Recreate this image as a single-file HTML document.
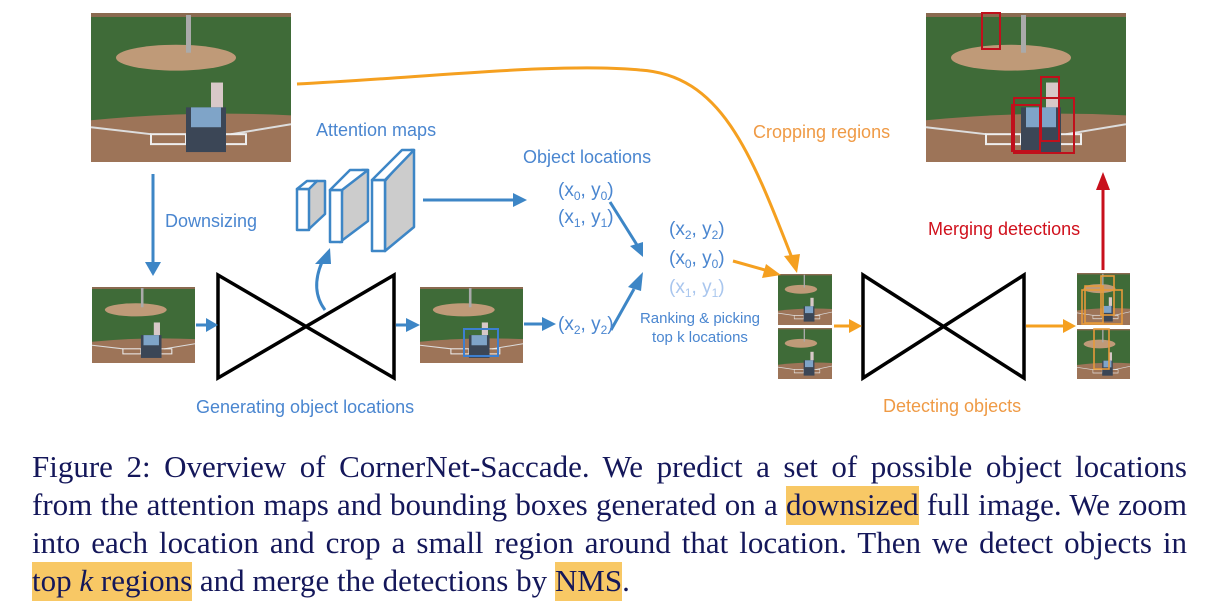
<!DOCTYPE html>
<html><head><meta charset="utf-8"><style>
html,body{margin:0;padding:0;background:#fff;}
svg{display:block;position:absolute;left:0;top:0;}
.l{font-family:"Liberation Sans",sans-serif;font-size:18px;}
#cap{position:absolute;left:32px;top:448px;width:1155px;font-family:"Liberation Serif",serif;font-size:31px;color:#14175a;}
#cap div{height:38px;line-height:38px;text-align:justify;text-align-last:justify;white-space:nowrap;}
#cap div.last{text-align-last:left;}
.hl{background:#f8c865;padding:1px 0 3px 0;}
</style></head><body>
<svg width="1206" height="610" viewBox="0 0 1206 610" xmlns="http://www.w3.org/2000/svg">
<defs>
<symbol id="ph" viewBox="0 0 200 150" preserveAspectRatio="none">
<rect width="200" height="150" fill="#3f6b38"/>
<rect y="0" width="200" height="4" fill="#8a6a50"/>
<ellipse cx="85" cy="45" rx="60" ry="13" fill="#bf9a78"/>
<path d="M0 108 Q100 98 200 103 L200 150 L0 150Z" fill="#9d7458"/>
<path d="M0 115 L60 122 M200 112 L140 122" stroke="#ddd" stroke-width="2"/>
<rect x="60" y="122" width="35" height="10" fill="none" stroke="#eee" stroke-width="2"/>
<rect x="125" y="122" width="30" height="10" fill="none" stroke="#eee" stroke-width="2"/>
<rect x="95" y="2" width="5" height="38" fill="#aaa"/>
<rect x="120" y="70" width="12" height="45" fill="#d8c8c8"/>
<rect x="95" y="95" width="40" height="45" fill="#3b4656"/>
<rect x="100" y="95" width="30" height="20" fill="#7fa4c8"/>
</symbol>
</defs>

<use href="#ph" x="91" y="13" width="200" height="149"/>
<use href="#ph" x="92" y="287" width="103" height="76"/>
<use href="#ph" x="420" y="287" width="103" height="76"/>
<rect x="464" y="329" width="34" height="27" fill="none" stroke="#3d7fd0" stroke-width="2"/>
<use href="#ph" x="926" y="13" width="200" height="149"/>
<g fill="none" stroke="#c0101c" stroke-width="2">
<rect x="982" y="13" width="18" height="36"/><rect x="1041" y="77" width="18" height="64"/>
<rect x="1014" y="98" width="60" height="55"/><rect x="1012" y="105" width="28" height="46"/>
</g>
<use href="#ph" x="778" y="274" width="54" height="51"/>
<use href="#ph" x="778" y="328" width="54" height="51"/>
<use href="#ph" x="1077" y="273" width="53" height="52"/>
<use href="#ph" x="1077" y="329" width="53" height="50"/>
<g fill="none" stroke="#e69a3a" stroke-width="1.6">
<rect x="1101" y="276" width="13" height="39"/><rect x="1082" y="290" width="40" height="34"/><rect x="1085" y="286" width="18" height="37"/>
<rect x="1094" y="329" width="15" height="40"/>
</g>

<path d="M218 275 L218 378 L394 275 L394 378 Z" fill="none" stroke="#000" stroke-width="3.5"/>
<path d="M863 275 L863 378 L1024 275 L1024 378 Z" fill="none" stroke="#000" stroke-width="3.5"/>

<g stroke="#3d86c6" stroke-width="2.5" stroke-linejoin="round">
<path d="M307 189 L317 181 L325 181 L325 214 L309 229 Z" fill="#ccc"/><rect x="297" y="189" width="12" height="41" fill="#fff"/><path d="M297 189 L307 181 L317 181 L309 189Z" fill="#fff"/>
<path d="M342 190 L362 170 L368 170 L368 221 L340 242 Z" fill="#ccc"/><rect x="330" y="190" width="12" height="52" fill="#fff"/><path d="M330 190 L350 170 L368 170 L342 190Z" fill="#fff"/>
<path d="M385 181 L411 150 L414 150 L414 227 L385 251 Z" fill="#ccc"/><rect x="372" y="180" width="13" height="71" fill="#fff"/><path d="M372 180 L402 150 L414 150 L385 180Z" fill="#fff"/>
</g>

<g stroke="#3d86c6" stroke-width="3" fill="none">
<path d="M153 174 L153 262"/><path d="M196 325 L208 325"/><path d="M396 325 L408 325"/>
<path d="M423 200 L515 200"/><path d="M524 324 L544 324"/>
<path d="M325 310 Q310 290 322 262"/>
<path d="M610 202 L637 245"/><path d="M611 330 L634 289"/>
</g>
<g fill="#3d86c6">
<path d="M145 262 L161 262 L153 276Z"/><path d="M206 318 L218 325 L206 332Z"/><path d="M406 318 L420 325 L406 332Z"/>
<path d="M513 193 L527 200 L513 207Z"/><path d="M542 317 L556 324 L542 331Z"/>
<path d="M315 264 L331 264 L330 248Z"/>
<path d="M630 246 L643 242 L643 257Z"/><path d="M628 287 L641 291 L643 272Z"/>
</g>

<g stroke="#f5a020" stroke-width="3" fill="none">
<path d="M297 84 C420 78 560 62 640 70 C720 75 750 150 792 258"/>
<path d="M733 261 L772 272"/><path d="M834 326 L852 326"/><path d="M1026 326 L1064 326"/>
</g>
<g fill="#f5a020"><path d="M784 256 L800 254 L797 273Z"/><path d="M766 264 L781 275 L762 278Z"/><path d="M849 319 L862 326 L849 333Z"/><path d="M1063 319 L1076 326 L1063 333Z"/></g>
<path d="M1103 270 L1103 188" stroke="#c8101c" stroke-width="3"/>
<path d="M1096 190 L1110 190 L1103 172Z" fill="#c8101c"/>

<g class="l" fill="#4a86d0">
<text x="316" y="136">Attention maps</text>
<text x="165" y="227">Downsizing</text>
<text x="523" y="163">Object locations</text>
<text x="558" y="196" font-size="19">(x<tspan font-size="12" dy="4">0</tspan><tspan dy="-4">, y</tspan><tspan font-size="12" dy="4">0</tspan><tspan dy="-4">)</tspan></text>
<text x="558" y="223" font-size="19">(x<tspan font-size="12" dy="4">1</tspan><tspan dy="-4">, y</tspan><tspan font-size="12" dy="4">1</tspan><tspan dy="-4">)</tspan></text>
<text x="669" y="235" font-size="19">(x<tspan font-size="12" dy="4">2</tspan><tspan dy="-4">, y</tspan><tspan font-size="12" dy="4">2</tspan><tspan dy="-4">)</tspan></text>
<text x="669" y="264" font-size="19">(x<tspan font-size="12" dy="4">0</tspan><tspan dy="-4">, y</tspan><tspan font-size="12" dy="4">0</tspan><tspan dy="-4">)</tspan></text>
<text x="669" y="293" font-size="19" fill="#a9c6ee">(x<tspan font-size="12" dy="4">1</tspan><tspan dy="-4">, y</tspan><tspan font-size="12" dy="4">1</tspan><tspan dy="-4">)</tspan></text>
<text x="558" y="330" font-size="19">(x<tspan font-size="12" dy="4">2</tspan><tspan dy="-4">, y</tspan><tspan font-size="12" dy="4">2</tspan><tspan dy="-4">)</tspan></text>
<text x="700" y="323" font-size="15" text-anchor="middle">Ranking &amp; picking</text>
<text x="700" y="342" font-size="15" text-anchor="middle">top k locations</text>
<text x="196" y="413">Generating object locations</text>
</g>
<text class="l" x="753" y="138" fill="#ef9a45">Cropping regions</text>
<text class="l" x="883" y="412" fill="#ef9a45">Detecting objects</text>
<text class="l" x="928" y="235" fill="#d0101c">Merging detections</text>
</svg>
<div id="cap">
<div>Figure 2: Overview of CornerNet-Saccade. We predict a set of possible object locations</div>
<div>from the attention maps and bounding boxes generated on a <span class="hl">downsized</span> full image. We zoom</div>
<div>into each location and crop a small region around that location. Then we detect objects in</div>
<div class="last"><span class="hl">top <i>k</i> regions</span> and merge the detections by <span class="hl">NMS</span>.</div>
</div>
</body></html>
